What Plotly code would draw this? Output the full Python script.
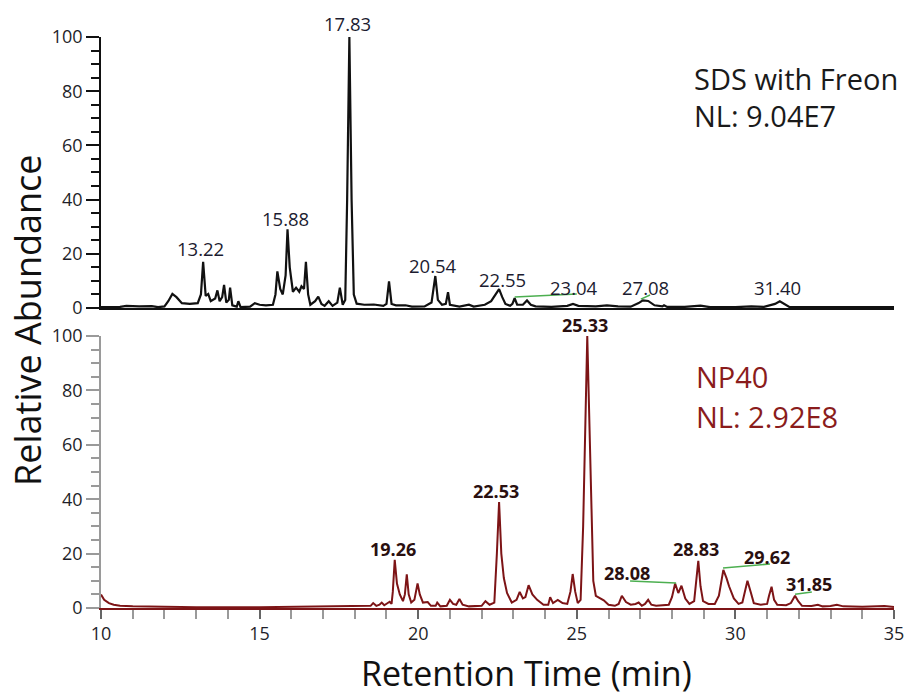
import plotly.graph_objects as go

# ---------------- data ----------------
top_time = [10.0, 10.6, 10.8, 11.2, 11.6, 11.8, 12.0, 12.12, 12.25, 12.38, 12.55, 12.8, 13.05, 13.15, 13.22, 13.3,
            13.38, 13.46, 13.6, 13.67, 13.74, 13.82, 13.88, 13.95, 14.03, 14.07, 14.14, 14.28, 14.33, 14.4, 14.7,
            14.85, 15.0, 15.2, 15.42, 15.5, 15.56, 15.65, 15.73, 15.82, 15.88, 15.95, 16.05, 16.15, 16.25, 16.32,
            16.4, 16.46, 16.53, 16.6, 16.75, 16.85, 16.95, 17.05, 17.18, 17.3, 17.45, 17.53, 17.62, 17.7, 17.76,
            17.83, 17.9, 17.97, 18.06, 18.3, 18.6, 18.9, 19.0, 19.08, 19.16, 19.3, 19.6, 19.8, 20.2, 20.42, 20.54,
            20.62, 20.75, 20.87, 20.94, 21.0, 21.3, 21.6, 21.75, 22.1, 22.3, 22.45, 22.55, 22.65, 22.75, 22.9,
            22.97, 23.04, 23.12, 23.3, 23.43, 23.55, 23.7, 24.2, 24.7, 24.88, 25.05, 25.6, 25.95, 26.3, 26.7,
            26.95, 27.08, 27.25, 27.45, 27.7, 27.75, 27.85, 28.4, 28.9, 29.2, 30.0, 30.5, 30.9, 31.25, 31.4, 31.55,
            31.7, 33.0, 34.0, 35.0]
top_abund = [0.3, 0.4, 0.8, 0.6, 0.7, 0.3, 0.6, 2.5, 5.2, 4.0, 1.8, 1.5, 1.8, 5, 17, 4.5,
             5.2, 2.5, 3.5, 6.5, 2.5, 4, 8.5, 2, 3, 7.5, 1, 0.5, 2.5, 0.3, 0.5,
             1.8, 1.2, 1.0, 1.2, 5, 13.5, 7, 5, 12, 29, 15, 6, 7.5, 6, 8,
             7, 17, 5, 1.2, 2.5, 4.2, 1.5, 0.8, 2.5, 0.8, 2, 7.5, 1.2, 3, 40,
             100, 40, 5, 1.6, 1.2, 1.3, 0.8, 1.5, 9.8, 1.5, 1.0, 1.0, 0.5, 0.6, 2, 11.8,
             3, 1.2, 1.5, 5.8, 1.2, 0.5, 1.2, 0.5, 1.2, 2.5, 5.5, 7, 4, 1.5, 0.8,
             1.5, 3.6, 1.2, 1.2, 2.8, 1.2, 0.6, 0.4, 0.8, 1.5, 0.8, 0.6, 1.0, 0.6, 0.5,
             1.8, 2.8, 2.6, 1.0, 0.6, 1.0, 0.4, 0.4, 0.9, 0.3, 0.3, 0.6, 0.4, 1.5, 2.5, 1.5,
             0.4, 0.3, 0.4, 0.3]

bot_time = [10.0, 10.1, 10.25, 10.4, 10.6, 11.0, 12.0, 13.0, 15.0, 16.5, 17.0, 17.5, 18.3, 18.5, 18.58, 18.68,
            18.78, 18.85, 18.93, 19.0, 19.1, 19.16, 19.2, 19.26, 19.33, 19.42, 19.52, 19.58, 19.64, 19.7, 19.78,
            19.88, 19.98, 20.05, 20.15, 20.3, 20.4, 20.55, 20.6, 20.7, 20.9, 21.0, 21.1, 21.2, 21.3, 21.4, 21.6,
            22.0, 22.12, 22.25, 22.4, 22.48, 22.55, 22.62, 22.7, 22.8, 22.95, 23.1, 23.2, 23.3, 23.38, 23.48,
            23.6, 23.75, 23.95, 24.1, 24.16, 24.25, 24.4, 24.55, 24.7, 24.8, 24.87, 24.95, 25.03, 25.12, 25.2,
            25.33, 25.45, 25.52, 25.6, 25.75, 25.85, 26.0, 26.2, 26.32, 26.42, 26.55, 26.7, 26.85, 26.95, 27.05,
            27.15, 27.25, 27.35, 27.5, 27.9, 28.0, 28.1, 28.2, 28.3, 28.42, 28.55, 28.7, 28.76, 28.83, 28.9,
            28.98, 29.15, 29.35, 29.48, 29.62, 29.72, 29.8, 29.95, 30.1, 30.22, 30.3, 30.38, 30.48, 30.58, 30.8,
            31.0, 31.06, 31.14, 31.22, 31.32, 31.6, 31.75, 31.88, 31.98, 32.1, 32.4, 32.6, 32.75, 33.0, 33.2,
            33.4, 34.0, 34.7, 34.9, 35.0]
bot_abund = [5, 3, 1.8, 1.2, 0.8, 0.6, 0.5, 0.3, 0.3, 0.4, 0.6, 0.5, 0.6, 0.8, 1.8, 0.8,
             1.2, 2.0, 1.0, 1.5, 2.3, 1.5, 6, 17.7, 9, 5, 2.5, 5, 12.4, 5, 2,
             3, 9, 5, 2, 2.2, 0.8, 0.8, 2, 0.6, 0.8, 3, 1.5, 1.2, 3.3, 1.2, 0.6,
             0.8, 2.5, 1.2, 2, 20, 39, 20, 11, 5.5, 2, 3, 5.9, 3.5, 4, 8.4,
             5, 3, 1.2, 1.2, 4, 1.8, 3, 1.8, 1.5, 6, 12.5, 6, 1.8, 3, 30,
             100, 40, 10, 4.5, 3.5, 2.8, 1.2, 0.8, 1.5, 4.5, 2.2, 1.2, 1.5, 2, 0.8,
             1.5, 3, 1.2, 0.8, 1.2, 4, 9, 5.5, 8.2, 3.5, 1.5, 2.5, 10, 17.3, 8,
             2.5, 1.5, 1.5, 4.5, 14, 11, 8, 3.5, 1.5, 2, 6, 10, 6, 1.8, 1.2,
             1.5, 4.5, 7.8, 3, 1.2, 1.0, 1.8, 4.5, 2.5, 0.8, 0.7, 1.2, 0.6, 0.7, 1.2,
             0.6, 0.5, 0.7, 0.4, 0.4]

# peak labels: text, label x (min), label y (%)
top_labels = ["17.83", "13.22", "15.88", "20.54", "22.55", "23.04", "27.08", "31.40"]
top_label_x = [17.76, 13.15, 15.83, 20.47, 22.67, 24.91, 27.18, 31.34]
top_label_y = [104.8, 21.8, 33.2, 15.5, 10.7, 7.7, 7.7, 7.7]

bot_labels = ["25.33", "19.26", "22.53", "28.08", "28.83", "29.62", "31.85"]
bot_label_x = [25.26, 19.21, 22.45, 26.58, 28.76, 31.0, 32.32]
bot_label_y = [104.0, 21.7, 43.0, 12.9, 21.7, 18.75, 8.8]

# green leader lines: (x0, y0, x1, y1)
top_leaders = [(23.04, 4.1, 25.0, 5.2), (27.02, 3.3, 27.31, 4.8)]
bot_leaders = [(26.68, 9.9, 28.13, 9.2), (29.61, 14.7, 31.09, 16.2), (31.88, 5.1, 32.41, 5.9)]

x_ticks = [10, 15, 20, 25, 30, 35]
y_ticks = [0, 20, 40, 60, 80, 100]
Y_MAX = 100

# ---------------- figure ----------------
FONT = "Open Sans"
TXT = "#1f1f2a"
RED = "#7d1416"

fig = go.Figure()
fig.add_trace(go.Scatter(x=top_time, y=top_abund, mode="lines", xaxis="x", yaxis="y",
                         line=dict(color="#111111", width=2.2), showlegend=False, hoverinfo="skip"))
fig.add_trace(go.Scatter(x=bot_time, y=bot_abund, mode="lines", xaxis="x2", yaxis="y2",
                         line=dict(color=RED, width=2), showlegend=False, hoverinfo="skip"))

yax_common = dict(range=[0, Y_MAX], tickvals=y_ticks, ticks="outside", ticklen=13, tickwidth=1.5,
                  showgrid=False, zeroline=False, showline=True, linewidth=1.5,
                  tickfont=dict(family=FONT, size=18, color=TXT))

fig.update_layout(
    width=908, height=696,
    margin=dict(l=101, r=14, t=20, b=88, autoexpand=False),
    paper_bgcolor="white", plot_bgcolor="white",
    font=dict(family=FONT, color=TXT),
    xaxis=dict(domain=[0, 1], anchor="y", range=[10, 35], showticklabels=False, ticks="",
               showgrid=False, zeroline=False, showline=True, linecolor="#111111", linewidth=1.5),
    yaxis=dict(domain=[0.5102, 0.9711], anchor="x", linecolor="#111111", tickcolor="#111111",
               minor=dict(dtick=5, ticks="outside", ticklen=8, tickcolor="#111111", tickwidth=1.5),
               **yax_common),
    xaxis2=dict(domain=[0, 1], anchor="y2", range=[10, 35], tickvals=x_ticks, ticks="outside",
                ticklen=9, tickwidth=1.5, tickcolor="#666666",
                minor=dict(dtick=1, ticks="outside", ticklen=9, tickcolor="#9a9a9a", tickwidth=1.5),
                showgrid=False, zeroline=False, showline=True, linecolor=RED, linewidth=1.5,
                tickfont=dict(family=FONT, size=18, color=TXT)),
    yaxis2=dict(domain=[0, 0.4626], anchor="x2", linecolor="#9a9a9a", tickcolor="#9a9a9a",
                minor=dict(dtick=5, ticks="outside", ticklen=8, tickcolor="#9a9a9a", tickwidth=1.5),
                **yax_common),
)

ann = []
for t, x, y in zip(top_labels, top_label_x, top_label_y):
    ann.append(dict(text=t, x=x, y=y / Y_MAX, xref="x", yref="y domain", showarrow=False,
                    xanchor="center", yanchor="middle",
                    font=dict(family=FONT, size=18.5, color="#1c1c30")))
for t, x, y in zip(bot_labels, bot_label_x, bot_label_y):
    ann.append(dict(text="<b>" + t + "</b>", x=x, y=y / Y_MAX, xref="x2", yref="y2 domain", showarrow=False,
                    xanchor="center", yanchor="middle",
                    font=dict(family=FONT, size=18, color="#2a1010")))

ann += [
    dict(text="SDS with Freon", x=0.745, y=0.901, xref="paper", yref="paper", showarrow=False,
         xanchor="left", yanchor="middle", font=dict(family=FONT, size=29, color="#1a1a1a")),
    dict(text="NL: 9.04E7", x=0.745, y=0.838, xref="paper", yref="paper", showarrow=False,
         xanchor="left", yanchor="middle", font=dict(family=FONT, size=29, color="#1a1a1a")),
    dict(text="NP40", x=0.748, y=0.393, xref="paper", yref="paper", showarrow=False,
         xanchor="left", yanchor="middle", font=dict(family=FONT, size=29, color="#8a1c1c")),
    dict(text="NL: 2.92E8", x=0.748, y=0.325, xref="paper", yref="paper", showarrow=False,
         xanchor="left", yanchor="middle", font=dict(family=FONT, size=29, color="#8a1c1c")),
    dict(text="Relative Abundance", x=-0.092, y=0.49, xref="paper", yref="paper", showarrow=False,
         textangle=-90, xanchor="center", yanchor="middle",
         font=dict(family=FONT, size=36, color="#111111")),
    dict(text="Retention Time (min)", x=0.536, y=-0.111, xref="paper", yref="paper", showarrow=False,
         xanchor="center", yanchor="middle", font=dict(family=FONT, size=34, color="#111111")),
]
fig.update_layout(annotations=ann)

shapes = []
for x0, y0, x1, y1 in top_leaders:
    shapes.append(dict(type="line", xref="x", yref="y", x0=x0, y0=y0, x1=x1, y1=y1,
                       line=dict(color="#4caf50", width=1.5)))
for x0, y0, x1, y1 in bot_leaders:
    shapes.append(dict(type="line", xref="x2", yref="y2", x0=x0, y0=y0, x1=x1, y1=y1,
                       line=dict(color="#4caf50", width=1.5)))
fig.update_layout(shapes=shapes)

# remove the default page margin so the figure fills the 908x696 window exactly
fig.write_html("out.html", config={"displayModeBar": False},
               post_script="document.body.style.margin='0px';")
